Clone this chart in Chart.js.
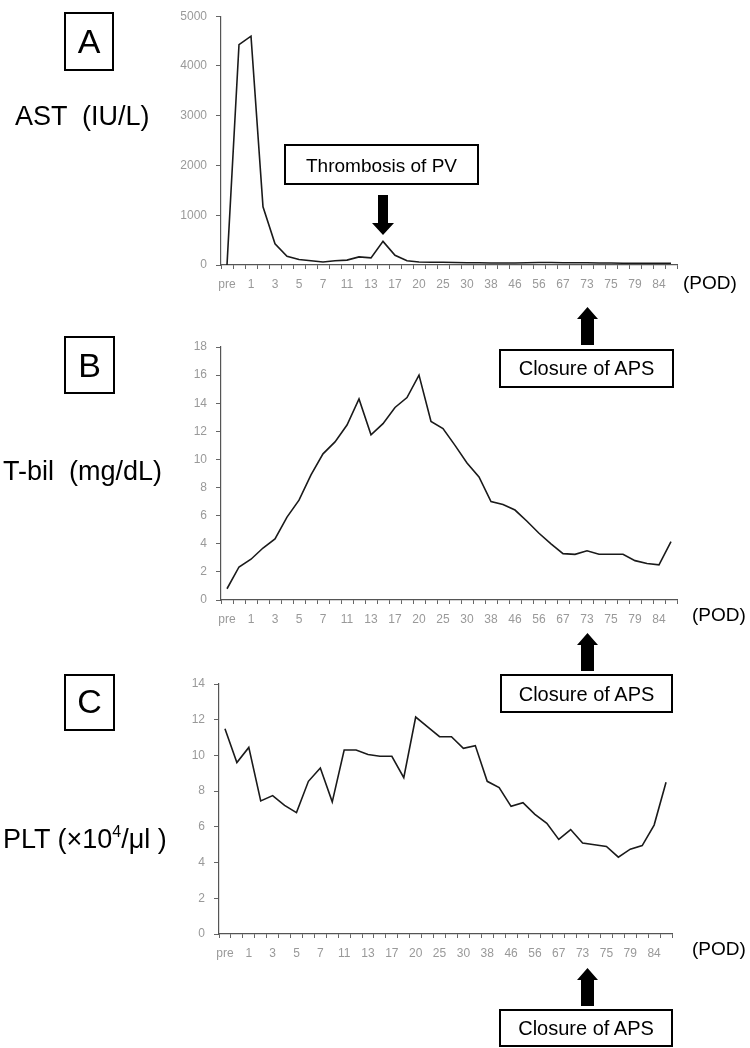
<!DOCTYPE html>
<html>
<head>
<meta charset="utf-8">
<script src="https://cdn.jsdelivr.net/npm/chart.js@4.4.1/dist/chart.umd.min.js"></script>
<style>
  body { margin: 0; background: #fff; width: 750px; height: 1048px; position: relative; overflow: hidden; }
  canvas { position: absolute; }
  #overlay { position: absolute; left: 0; top: 0; pointer-events: none; }
  #overlay text { font-family: 'Liberation Sans', Arial, sans-serif; fill: #000; }
</style>
</head>
<body>
<canvas id="astChart" width="545" height="300" style="left:140px;top:0px"></canvas>
<canvas id="tbilChart" width="545" height="300" style="left:140px;top:330px"></canvas>
<canvas id="pltChart" width="545" height="300" style="left:140px;top:665px"></canvas>

<svg id="overlay" width="750" height="1048">
  <!-- panel letters -->
  <rect x="65" y="13" width="48" height="57" fill="none" stroke="#000" stroke-width="2"/>
  <text x="89" y="53" font-size="34" text-anchor="middle">A</text>
  <rect x="65" y="337" width="49" height="56" fill="none" stroke="#000" stroke-width="2"/>
  <text x="89.5" y="377" font-size="34" text-anchor="middle">B</text>
  <rect x="65" y="675" width="49" height="55" fill="none" stroke="#000" stroke-width="2"/>
  <text x="89.5" y="713" font-size="34" text-anchor="middle">C</text>

  <!-- y titles -->
  <text x="15" y="125" font-size="27" style="white-space:pre">AST  (IU/L)</text>
  <text x="3" y="480" font-size="27" style="white-space:pre">T-bil  (mg/dL)</text>
  <text x="3" y="848" font-size="27">PLT (×10<tspan font-size="16" dy="-11">4</tspan><tspan dy="11">/μl )</tspan></text>

  <!-- x unit -->
  <text x="683" y="289" font-size="19">(POD)</text>
  <text x="692" y="621" font-size="19">(POD)</text>
  <text x="692" y="955" font-size="19">(POD)</text>

  <!-- thrombosis note -->
  <rect x="285" y="145" width="193" height="39" fill="#fff" stroke="#000" stroke-width="2"/>
  <text x="381.5" y="172" font-size="19" text-anchor="middle">Thrombosis of PV</text>
  <polygon points="378,195 388,195 388,223 394,223 383,235 372,223 378,223" fill="#000"/>

  <!-- closure of APS notes -->
  <polygon points="587.5,307 598,319 594,319 594,345 581,345 581,319 577,319" fill="#000"/>
  <rect x="500" y="350" width="173" height="37" fill="#fff" stroke="#000" stroke-width="2"/>
  <text x="586.5" y="375" font-size="20" text-anchor="middle">Closure of APS</text>

  <polygon points="587.5,633 598,645 594,645 594,671 581,671 581,645 577,645" fill="#000"/>
  <rect x="501" y="675" width="171" height="37" fill="#fff" stroke="#000" stroke-width="2"/>
  <text x="586.5" y="701" font-size="20" text-anchor="middle">Closure of APS</text>

  <polygon points="587.5,968 598,980 594,980 594,1006 581,1006 581,980 577,980" fill="#000"/>
  <rect x="500" y="1010" width="172" height="36" fill="#fff" stroke="#000" stroke-width="2"/>
  <text x="586" y="1035" font-size="20" text-anchor="middle">Closure of APS</text>
</svg>

<script>
// day labels shown on the axis (every other category is unlabeled)
const podLabels = ['pre', '1', '3', '5', '7', '11', '13', '17', '20', '25', '30', '38', '46', '56', '67', '73', '75', '79', '84'];
const categories = [];
podLabels.forEach(function (l) { categories.push(l, ''); });

const astValues = [0, 4430, 4600, 1170, 425, 175, 110, 85, 60, 85, 98, 163, 143, 475, 195, 85, 60, 55, 55, 50,
    45, 45, 40, 40, 40, 45, 50, 50, 45, 45, 45, 40, 40, 35, 35, 35, 35, 35];
const tbilValues = [0.8, 2.35, 2.9, 3.7, 4.35, 5.9, 7.1, 8.9, 10.4, 11.25, 12.45, 14.3, 11.75, 12.55, 13.7, 14.4, 16.0, 12.7, 12.2, 11.0,
    9.75, 8.75, 7.0, 6.8, 6.4, 5.6, 4.75, 4.0, 3.3, 3.25, 3.5, 3.25, 3.25, 3.25, 2.8, 2.6, 2.5, 4.15];
const pltValues = [11.5, 9.6, 10.45, 7.45, 7.75, 7.2, 6.8, 8.55, 9.3, 7.4, 10.3, 10.3, 10.05, 9.95, 9.95, 8.75, 12.15, 11.6, 11.05, 11.05,
    10.4, 10.55, 8.55, 8.2, 7.15, 7.35, 6.7, 6.2, 5.3, 5.85, 5.1, 5.0, 4.9, 4.3, 4.75, 4.95, 6.1, 8.5];

const tickFont = { family: "'Liberation Sans', Arial, sans-serif", size: 12 };

function makeChart(id, values, yMax, yStep, yWidth, padding, xHeight) {
    const ctx = document.getElementById(id).getContext('2d');
    new Chart(ctx, {
        type: 'line',
        data: {
            labels: categories,
            datasets: [{
                data: values,
                borderColor: '#1a1a1a',
                borderWidth: 1.6,
                pointRadius: 0,
                tension: 0,
                fill: false
            }]
        },
        options: {
            responsive: false,
            animation: false,
            layout: { padding: padding },
            plugins: { legend: { display: false }, tooltip: { enabled: false } },
            scales: {
                x: {
                    offset: true,
                    grid: { offset: true, drawOnChartArea: false, tickLength: 4, color: '#666' },
                    border: { color: '#555', width: 1.2 },
                    ticks: { autoSkip: false, maxRotation: 0, minRotation: 0, color: '#999', font: tickFont, padding: 8 },
                    afterFit: function (s) { s.height = xHeight; }
                },
                y: {
                    min: 0,
                    max: yMax,
                    grid: { drawOnChartArea: false, tickLength: 5, color: '#666' },
                    border: { color: '#555', width: 1.2 },
                    ticks: {
                        stepSize: yStep, color: '#999', font: tickFont, padding: 9,
                        callback: function (v) { return String(v); }
                    },
                    afterFit: function (s) { s.width = yWidth; }
                }
            }
        }
    });
}

makeChart('astChart', astValues, 5000, 1000, 81, { top: 9, right: 8, left: 0, bottom: 0 }, 35);
makeChart('tbilChart', tbilValues, 18, 2, 81, { top: 17, right: 8, left: 0, bottom: 0 }, 30);
makeChart('pltChart', pltValues, 14, 2, 79, { top: 19, right: 13, left: 0, bottom: 0 }, 31);
</script>
</body>
</html>
